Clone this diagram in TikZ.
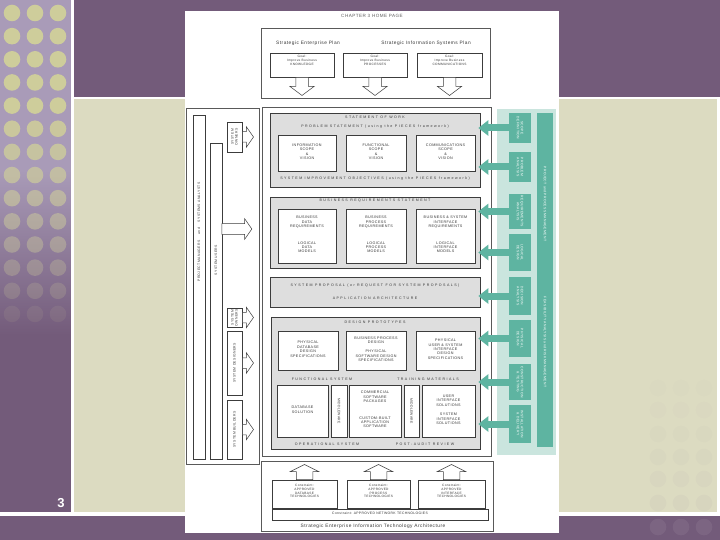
\documentclass[tikz,border=0pt]{standalone}
\usepackage{fontspec}
\setmainfont{Liberation Sans}
\newfontfamily\spacedfont[LetterSpace=40]{Liberation Sans}
\newfontfamily\boxfont[LetterSpace=10]{Liberation Sans}
\usepackage{tikz}
\usetikzlibrary{arrows.meta, shapes.arrows, positioning, fit}
\usepackage{xcolor}
\definecolor{slidepurple}{RGB}{115,91,122}
\definecolor{striplav}{RGB}{169,155,184}
\definecolor{dotcol}{RGB}{206,205,155}
\definecolor{bandbeige}{RGB}{220,219,193}
\definecolor{fadedot}{RGB}{160,145,165}
\definecolor{boxline}{RGB}{60,60,60}
\definecolor{panelgray}{RGB}{222,222,222}
\definecolor{txtgray}{RGB}{55,55,55}
\definecolor{tealc}{RGB}{94,180,161}
\definecolor{lightteal}{RGB}{202,229,222}

\begin{document}
\begin{tikzpicture}[x=1pt, y=-1pt,
    outer/.style={draw=boxline!85, fill=white, line width=0.7pt, inner sep=0pt},
    panel/.style={draw=boxline, fill=panelgray, line width=0.6pt, inner sep=0pt},
    wbox/.style={draw=boxline, fill=white, line width=0.5pt, inner sep=0pt,
                 align=center, text=txtgray, font=\boxfont\fontsize{3.7}{4.4}\selectfont},
    heading/.style={inner sep=0pt, text=txtgray, font=\spacedfont\fontsize{3.6}{4}\selectfont},
    plan/.style={inner sep=0pt, text=txtgray, font=\boxfont\fontsize{4.8}{5}\selectfont},
    goaltxt/.style={inner sep=0pt, align=center, text=txtgray, font=\boxfont\fontsize{3.2}{3.7}\selectfont},
    uptxt/.style={inner sep=0pt, align=center, text=txtgray, rotate=90,
                  font=\boxfont\fontsize{3.4}{4}\selectfont},
    dntxt/.style={inner sep=0pt, align=center, text=txtgray, rotate=-90,
                  font=\boxfont\fontsize{3.4}{4}\selectfont},
    tealtxt/.style={dntxt, text=white},
    tealbox/.style={fill=tealc, inner sep=0pt},
    tealarr/.style={tealc, line width=7pt, shorten >=-2pt, -{Triangle[width=15pt, length=10pt]}},
    blockarr/.style={single arrow, draw=boxline, fill=white, line width=0.5pt,
                     inner xsep=0pt, anchor=tail},
    goalarr/.style={blockarr, inner ysep=6pt, single arrow head extend=6pt,
                    single arrow tip angle=106, minimum height=18pt, rotate=-90},
    sidearr/.style={blockarr, inner ysep=5pt, single arrow head extend=5pt,
                    single arrow tip angle=110, minimum height=11pt},
    uparr/.style={blockarr, inner ysep=8pt, single arrow head extend=6pt,
                  single arrow tip angle=127, minimum height=15pt, rotate=90}
  ]
  \useasboundingbox (0,0) rectangle (720,540);
  % slide background
  \fill[slidepurple] (0,0) rectangle (720,540);
  \fill[striplav] (0,0) rectangle (71,170);
  \shade[top color=striplav, bottom color=slidepurple] (0,170) rectangle (71,335);
  \foreach \i in {0,...,13}{
    \pgfmathsetmacro\op{min(1,1.4-0.1*\i)}
    \foreach \x in {12,35,58}
      \fill[dotcol, opacity=\op] (\x,13+23.15*\i) circle (8.3);
  }
  \fill[bandbeige] (74,99) rectangle (717,512);
  \fill[white] (71,0) rectangle (74,516);
  \fill[white] (74,97) rectangle (720,99);
  \fill[white] (717,97) rectangle (720,516);
  \fill[white] (0,512) rectangle (720,516);
  \foreach \y/\op in {388/0.02, 410/0.03, 434/0.04, 457/0.05, 479/0.06, 503/0.08, 527/0.2}
    \foreach \x in {658,681,704}
      \fill[fadedot, opacity=\op] (\x,\y) circle (8.3);
  \node[inner sep=0pt, text=white, font=\bfseries\fontsize{13}{13}\selectfont] (pgno) at (61,503) {3};

  % page
  \fill[white] (185,11) rectangle (559,533);
  \node[plan, text=txtgray!80, font=\boxfont\fontsize{4.6}{5}\selectfont] (ttl) at (372,15.5) {CHAPTER 3 HOME PAGE};

  % Strategic plans
  \node[outer, fit={(261,28)(490,98)}] (strat) {};
  \node[plan] (sep) at (308,43) {Strategic Enterprise Plan};
  \node[plan] (sisp) at (426,43) {Strategic Information Systems Plan};
  \node[wbox, fit={(270,53)(334,77)}] (g1) {};
  \node[wbox, fit={(343,53)(407,77)}] (g2) {};
  \node[wbox, fit={(417,53)(482,77)}] (g3) {};
  \node[goaltxt, below=2.5pt of g1.north] (g1t) {Goal:\\Improve Business\\KNOWLEDGE};
  \node[goaltxt, below=2.5pt of g2.north] (g2t) {Goal:\\Improve Business\\PROCESSES};
  \node[goaltxt, below=2.5pt of g3.north] (g3t) {Goal:\\Improve Business\\COMMUNICATIONS};
  \node[goalarr] (ga1) at (g1.south) {};
  \node[goalarr] (ga2) at (g2.south) {};
  \node[goalarr] (ga3) at (g3.south) {};

  % Stakeholders
  \node[outer, fit={(186,108)(259,464)}] (lp) {};
  \node[wbox, fit={(193,115)(205,459)}] (pmsa) {};
  \node[uptxt] (pmsat) at (199,232) {PROJECT MANAGERS\hspace{6pt}and\hspace{6pt}SYSTEMS ANALYSTS};
  \node[wbox, fit={(210,143)(222,459)}] (su) {};
  \node[uptxt] (sut) at (216,260) {SYSTEM USERS};
  \node[sidearr, minimum height=30pt] (suarr) at (221.6,229) {};
  \node[wbox, fit={(227,122)(242,152)}] (so1) {};
  \node[uptxt] (so1t) at (so1) {SYSTEM\\OWNERS};
  \node[wbox, fit={(227,308)(242,327)}] (so2) {};
  \node[uptxt] (so2t) at (so2) {SYSTEM\\OWNERS};
  \node[wbox, fit={(227,331)(242,395)}] (sd) {};
  \node[uptxt] (sdt) at (sd) {SYSTEM DESIGNERS};
  \node[wbox, fit={(227,400)(242,459)}] (sb) {};
  \node[uptxt] (sbt) at (sb) {SYSTEM BUILDERS};
  \node[sidearr] (so1arr) at (so1.east) {};
  \node[sidearr] (so2arr) at (so2.east) {};
  \node[sidearr] (sdarr) at (sd.east) {};
  \node[sidearr] (sbarr) at (sb.east) {};

  % Main deliverables
  \node[outer, fit={(262,107)(491,456)}] (mb) {};
  % statement of work
  \node[panel, fit={(270,113)(480,187)}] (sow) {};
  \node[heading] (sowt) at (375,117.5) {STATEMENT OF WORK};
  \node[heading] (pst) at (375,127) {PROBLEM STATEMENT (using the PIECES framework)};
  \node[wbox, fit={(278,135)(336,171)}] (a1) {INFORMATION\\SCOPE\\\&\\VISION};
  \node[wbox, fit={(346,135)(406,171)}] (a2) {FUNCTIONAL\\SCOPE\\\&\\VISION};
  \node[wbox, fit={(416,135)(475,171)}] (a3) {COMMUNICATIONS\\SCOPE\\\&\\VISION};
  \node[heading] (sio) at (375,179) {SYSTEM IMPROVEMENT OBJECTIVES (using the PIECES framework)};
  % business requirements
  \node[panel, fit={(270,197)(480,268)}] (brs) {};
  \node[heading] (brst) at (375,201) {BUSINESS REQUIREMENTS STATEMENT};
  \node[wbox, fit={(278,209)(336,263)}] (b1) {BUSINESS\\DATA\\REQUIREMENTS\\[12pt]LOGICAL\\DATA\\MODELS};
  \node[wbox, fit={(346,209)(406,263)}] (b2) {BUSINESS\\PROCESS\\REQUIREMENTS\\[12pt]LOGICAL\\PROCESS\\MODELS};
  \node[wbox, fit={(416,209)(475,263)}] (b3) {BUSINESS \& SYSTEM\\INTERFACE\\REQUIREMENTS\\[12pt]LOGICAL\\INTERFACE\\MODELS};
  % system proposal
  \node[panel, fit={(270,277)(480,307)}] (prop) {};
  \node[heading] (propt) at (375,286) {SYSTEM PROPOSAL (or REQUEST FOR SYSTEM PROPOSALS)};
  \node[heading] (appa) at (375,298) {APPLICATION ARCHITECTURE};
  % design and construction
  \node[panel, fit={(271,317)(480,449)}] (dp) {};
  \node[heading] (dpt) at (375,322) {DESIGN PROTOTYPES};
  \node[wbox, fit={(278,331)(338,370)}] (c1) {PHYSICAL\\DATABASE\\DESIGN\\SPECIFICATIONS};
  \node[wbox, fit={(346,331)(406,370)}] (c2) {BUSINESS PROCESS\\DESIGN\\[5pt]PHYSICAL\\SOFTWARE DESIGN\\SPECIFICATIONS};
  \node[wbox, fit={(416,331)(475,370)}] (c3) {PHYSICAL\\USER \& SYSTEM\\INTERFACE\\DESIGN\\SPECIFICATIONS};
  \node[heading] (fst) at (322,379) {FUNCTIONAL SYSTEM};
  \node[heading] (trm) at (428,379) {TRAINING MATERIALS};
  \node[wbox, fit={(277,385)(328,437)}] (d1) {DATABASE\\SOLUTION};
  \node[wbox, fit={(331,385)(347,437)}] (m1) {};
  \node[dntxt] (m1t) at (m1) {MIDDLEWARE};
  \node[wbox, fit={(349,385)(401,437)}] (d2) {COMMERCIAL\\SOFTWARE\\PACKAGES\\[12pt]CUSTOM-BUILT\\APPLICATION\\SOFTWARE};
  \node[wbox, fit={(404,385)(419,437)}] (m2) {};
  \node[dntxt] (m2t) at (m2) {MIDDLEWARE};
  \node[wbox, fit={(422,385)(475,437)}] (d3) {USER\\INTERFACE\\SOLUTIONS\\[5pt]SYSTEM\\INTERFACE\\SOLUTIONS};
  \node[heading] (ops) at (327,444) {OPERATIONAL SYSTEM};
  \node[heading] (par) at (425,444) {POST-AUDIT REVIEW};

  % Technology architecture
  \node[outer, fit={(261,461)(493,531)}] (arch) {};
  \node[wbox, fit={(272,480)(337,508)}] (e1) {};
  \node[wbox, fit={(347,480)(410,508)}] (e2) {};
  \node[wbox, fit={(418,480)(485,508)}] (e3) {};
  \node[goaltxt, below=4.5pt of e1.north] (e1t) {Constraint:\\APPROVED\\DATABASE\\TECHNOLOGIES};
  \node[goaltxt, below=4.5pt of e2.north] (e2t) {Constraint:\\APPROVED\\PROCESS\\TECHNOLOGIES};
  \node[goaltxt, below=4.5pt of e3.north] (e3t) {Constraint:\\APPROVED\\INTERFACE\\TECHNOLOGIES};
  \node[wbox, font=\boxfont\fontsize{3.4}{4}\selectfont, fit={(272,509)(488,520)}] (net) {Constraint: APPROVED NETWORK TECHNOLOGIES};
  \node[plan] (seita) at (373,526) {Strategic Enterprise Information Technology Architecture};
  \node[uparr] (ua1) at (e1.north) {};
  \node[uparr] (ua2) at (e2.north) {};
  \node[uparr] (ua3) at (e3.north) {};

  % Phases
  \node[fill=lightteal, draw=white, line width=0.8pt, inner sep=0pt, fit={(496,108)(556,455)}] (rp) {};
  \node[tealbox, fit={(509,113)(531,143)}] (s1) {};
  \node[tealbox, fit={(509,152)(531,182)}] (s2) {};
  \node[tealbox, fit={(509,194)(531,229)}] (s3) {};
  \node[tealbox, fit={(509,234)(531,271)}] (s4) {};
  \node[tealbox, fit={(509,277)(531,315)}] (s5) {};
  \node[tealbox, fit={(509,320)(531,357)}] (s6) {};
  \node[tealbox, fit={(509,364)(531,400)}] (s7) {};
  \node[tealbox, fit={(509,405)(531,443)}] (s8) {};
  \node[tealtxt] (s1t) at (s1) {SCOPE\\DEFINITION};
  \node[tealtxt] (s2t) at (s2) {PROBLEM\\ANALYSIS};
  \node[tealtxt] (s3t) at (s3) {REQUIREMENTS\\ANALYSIS};
  \node[tealtxt] (s4t) at (s4) {LOGICAL\\DESIGN};
  \node[tealtxt] (s5t) at (s5) {DECISION\\ANALYSIS};
  \node[tealtxt] (s6t) at (s6) {PHYSICAL\\DESIGN};
  \node[tealtxt] (s7t) at (s7) {CONSTRUCTION\\\& TESTING};
  \node[tealtxt] (s8t) at (s8) {INSTALLATION\\\& DELIVERY};
  \node[tealbox, fit={(537,113)(553,447)}] (mgmt) {};
  \node[tealtxt] (ppm) at (545,204) {PROJECT and PROCESS MANAGEMENT};
  \node[tealtxt] (farm) at (545,342) {FEASIBILITY ANALYSIS and RISK MANAGEMENT};
  % Arrows
  \draw[tealarr] (s1.west) -- (s1.west -| sow.east);
  \draw[tealarr] (s2.west) -- (s2.west -| sow.east);
  \draw[tealarr] (s3.west) -- (s3.west -| brs.east);
  \draw[tealarr] (s4.west) -- (s4.west -| brs.east);
  \draw[tealarr] (s5.west) -- (s5.west -| prop.east);
  \draw[tealarr] (s6.west) -- (s6.west -| dp.east);
  \draw[tealarr] (s7.west) -- (s7.west -| dp.east);
  \draw[tealarr] (s8.west) -- (s8.west -| dp.east);
\end{tikzpicture}
\end{document}
